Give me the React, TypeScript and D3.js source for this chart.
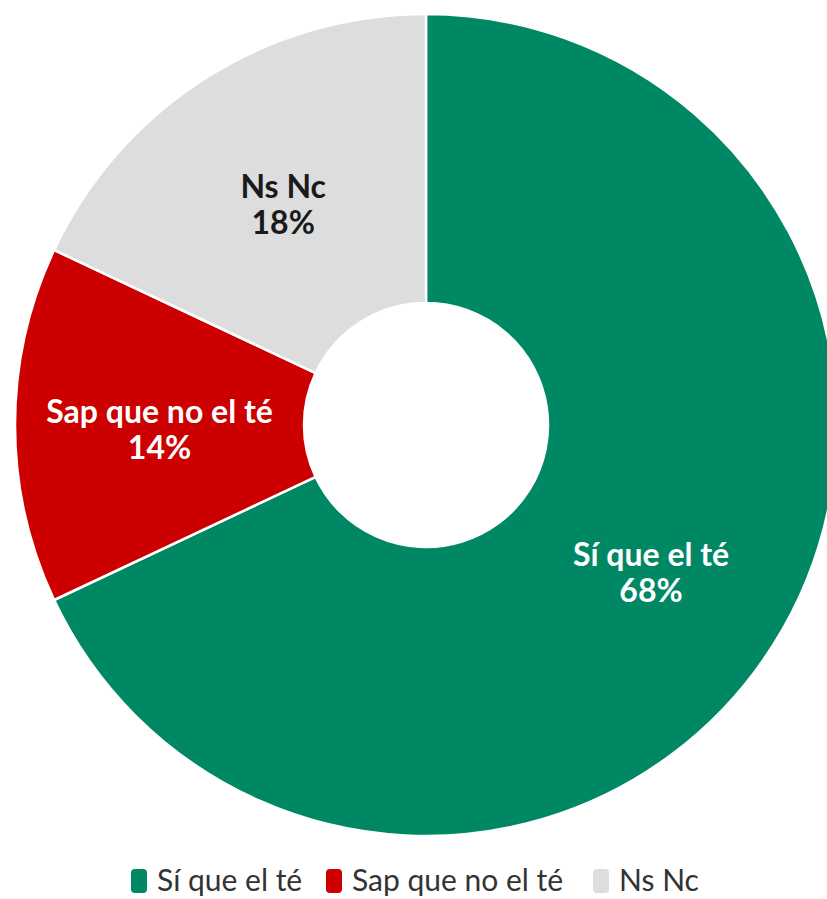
import React from "react";
import * as d3 from "d3";

const categories = ["Sí que el té", "Sap que no el té", "Ns Nc"];
const values = [68, 14, 18];
const colors = ["#008864", "#CC0000", "#DDDDDD"];
const labelColors = ["#ffffff", "#ffffff", "#1a1a1a"];

export default function App() {
  const W = 827, H = 899;
  const cx = 426, cy = 425;
  const outerR = 411, innerR = 122;
  const pie = d3.pie<number>().sort(null).value((d) => d);
  const arcs = pie(values);
  const arc = d3.arc<d3.PieArcDatum<number>>().innerRadius(innerR).outerRadius(outerR);
  const labelArc = d3.arc<d3.PieArcDatum<number>>().innerRadius((innerR + outerR) / 2).outerRadius((innerR + outerR) / 2);

  const font = "Lato, 'Source Sans Pro', 'Noto Sans', sans-serif";
  const legendX = [131, 326, 593];

  return (
    <svg width={W} height={H} style={{ position: "absolute", left: 0, top: 0, display: "block" }}>
      <rect width={W} height={H} fill="#fff" />
      <g transform={`translate(${cx},${cy})`}>
        {arcs.map((a, i) => (
          <path key={i} d={arc(a) || ""} fill={colors[i]} stroke="#fff" strokeWidth={2.5} />
        ))}
        {arcs.map((a, i) => {
          const [x, y] = labelArc.centroid(a);
          return (
            <text key={i} x={x} y={y} textAnchor="middle" fill={labelColors[i]}
              fontFamily={font} fontWeight={700} fontSize={32}>
              <tspan x={x} dy={-2}>{categories[i]}</tspan>
              <tspan x={x} dy={36}>{values[i]}%</tspan>
            </text>
          );
        })}
      </g>
      <g>
        {categories.map((c, i) => (
          <g key={i}>
            <rect x={legendX[i]} y={869} width={16} height={24} rx={4} fill={colors[i]} />
            <text x={legendX[i] + 26} y={891} fontFamily={font} fontSize={30} fill="#333">{c}</text>
          </g>
        ))}
      </g>
    </svg>
  );
}
